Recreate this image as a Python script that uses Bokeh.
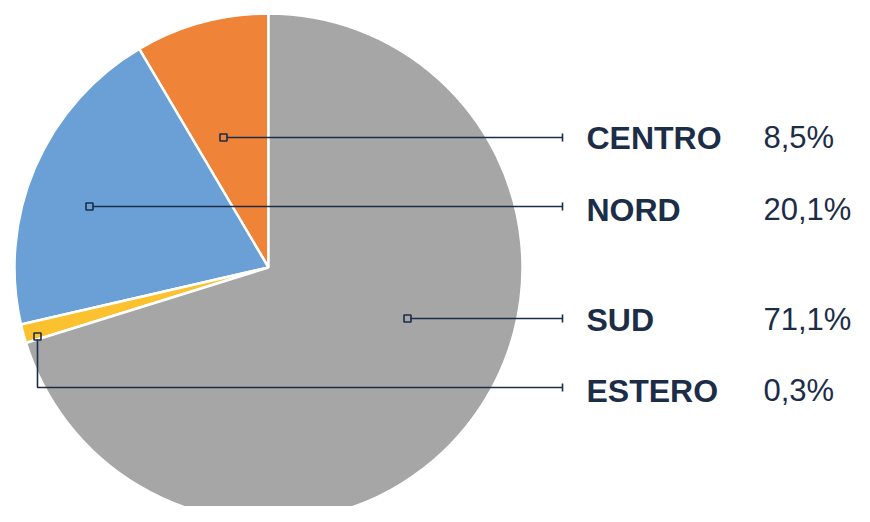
import math
from bokeh.plotting import figure
from bokeh.models import Range1d
from bokeh.core.properties import value
from bokeh.embed import file_html
from bokeh.resources import INLINE

# ---- data ----
categories = ["CENTRO", "NORD", "ESTERO", "SUD"]
shares = [8.5, 20.1, 0.3, 71.1]            # labelled values (%)
drawn_shares = [8.5, 20.1, 1.2, 70.2]      # wedge sizes as drawn in the picture (%)
value_labels = ["8,5%", "20,1%", "0,3%", "71,1%"]
colors = ["#EF8337", "#6AA0D5", "#FCC12E", "#A6A6A6"]

# anchor points of leader lines inside each slice (pixel coords from top-left) and label rows
anchor_x = [223, 89, 37, 407]
anchor_y = [137, 206, 336, 318]
row_y = [137, 206, 387, 318]
text_base_y = [137, 209, 390, 319]

W, H = 854, 506
def X(px):
    return px
def Y(py):
    return H - py

p = figure(width=W, height=H, output_backend="svg", toolbar_location=None,
           x_range=Range1d(0, W), y_range=Range1d(0, H), min_border=0)
p.axis.visible = False
p.grid.visible = False
p.outline_line_color = None
p.background_fill_color = "white"

cx, cy, r = X(268), Y(267), 254
start = 90.0
for cat, s, c in zip(categories, drawn_shares, colors):
    end = start + s * 3.6
    p.wedge(x=cx, y=cy, radius=r, start_angle=math.radians(start), end_angle=math.radians(end),
            direction="anticlock", fill_color=c, line_color="white", line_width=2.5)
    start = end

navy = "#1C2D48"
line_end = X(562)
for i, cat in enumerate(categories):
    ax, ay = X(anchor_x[i]), Y(anchor_y[i])
    ry = Y(row_y[i])
    if row_y[i] != anchor_y[i]:
        p.line([ax, ax, line_end], [ay - 3, ry, ry], line_color=navy, line_width=1.6)
    else:
        p.line([ax + 3, line_end], [ry, ry], line_color=navy, line_width=1.6)
    p.line([line_end, line_end], [ry - 4, ry + 4], line_color=navy, line_width=1.6)
    p.scatter(x=[ax], y=[ay], marker="square", size=7, fill_color=None,
              line_color=navy, line_width=1.6)
    p.text(x=[X(586)], y=[Y(text_base_y[i])], text=[cat], text_font=value("Liberation Sans"),
           text_font_style="bold", text_font_size="32px", text_color=navy,
           text_baseline="alphabetic", text_align="left")
    p.text(x=[X(763)], y=[Y(text_base_y[i])], text=[value_labels[i]], text_font=value("Liberation Sans"),
           text_font_size="31px", text_color=navy,
           text_baseline="alphabetic", text_align="left")

open("out.html", "w").write(file_html(p, INLINE))
